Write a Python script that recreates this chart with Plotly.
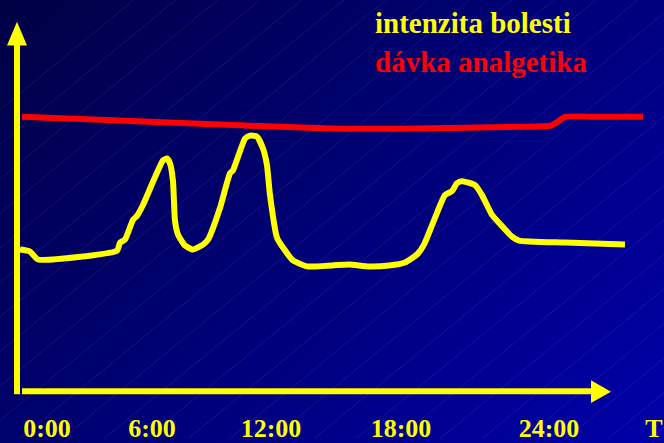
import plotly.graph_objects as go

# ---------------- data (x: time units along the axis, y: level above the time axis) ----------------
pain_x = [3, 13, 21, 100, 103, 108, 116, 120, 126, 146, 150, 153, 156, 158, 161, 168, 176, 186, 191,
          203, 213, 216, 228, 233, 240, 246, 250, 253, 260, 266, 276, 290, 315, 332, 352, 372, 388,
          400, 407, 418, 428, 435, 440, 445, 458, 465, 475, 482, 495, 502, 548, 608]
pain_y = [143, 141, 133, 142, 150, 153, 173, 177, 188, 233, 235, 230, 212, 172, 158, 147, 143, 148, 153,
          185, 220, 223, 255, 258, 257, 245, 228, 198, 155, 145, 132, 126, 127, 128, 126, 127, 130,
          138, 148, 175, 198, 202, 210, 212, 208, 198, 178, 170, 156, 152, 150, 148]

dose_x = [5, 83, 183, 263, 323, 383, 448, 503, 533, 539, 548, 583, 626]
dose_y = [277, 274, 270, 267, 265, 265, 266, 267, 268, 271, 277, 277, 277]

tick_pos = [30, 135, 254, 384, 532, 637]
tick_text = ["0:00", "6:00", "12:00", "18:00", "24:00", "T"]

legend_pain = "intenzita bolesti"
legend_dose = "dávka analgetika"

# ---------------- layout helpers ----------------
W, H = 664, 443
B = 31
PH = H - B
X0, Y0 = 17, 395   # pixel position of the axes origin


def px(x):
    return x / W


def py(y):
    return (PH - y) / PH


def dx(x):
    return x - X0


def dy(y):
    return Y0 - y


shapes = []

# background gradient (diagonal, darker top-left -> brighter bottom-right)
a, bx, cy = 68, 0.09, 0.09
kmax = bx * W + cy * H
N = 48


def yat(k, x):
    return (k - bx * x) / cy


for i in range(N):
    k0 = kmax * i / N - (200 if i == 0 else 0.4)
    k1 = kmax * (i + 1) / N + (200 if i == N - 1 else 0.4)
    kc = kmax * (i + 0.5) / N
    val = int(round(a + kc))
    xl, xr = -100, W + 100
    pts = [(xl, yat(k0, xl)), (xr, yat(k0, xr)), (xr, yat(k1, xr)), (xl, yat(k1, xl))]
    path = "M " + " L ".join(f"{px(x):.5f},{py(y):.5f}" for x, y in pts) + " Z"
    shapes.append(dict(type="path", path=path, xref="paper", yref="paper",
                       fillcolor=f"rgb(0,0,{val})", line=dict(width=0), layer="below"))

# faint diagonal texture lines
for x0 in range(-400, W + 40, 42):
    shapes.append(dict(type="line", xref="paper", yref="paper",
                       x0=px(x0), y0=py(H), x1=px(x0 + H / 0.83), y1=py(0),
                       line=dict(color="rgba(150,150,230,0.14)", width=1), layer="below"))

YEL = "#ffff00"
RED = "#ff0000"

# vertical axis with arrow
shapes.append(dict(type="rect", xref="x", yref="y", x0=dx(14), x1=dx(20), y0=dy(398), y1=dy(44),
                   fillcolor=YEL, line=dict(width=0), layer="above"))
shapes.append(dict(type="path", xref="x", yref="y",
                   path=f"M {dx(7)},{dy(46)} L {dx(27)},{dy(46)} L {dx(17)},{dy(22)} Z",
                   fillcolor=YEL, line=dict(width=0), layer="above"))
# horizontal axis with arrow
shapes.append(dict(type="rect", xref="x", yref="y", x0=dx(22), x1=dx(593), y0=dy(398), y1=dy(392),
                   fillcolor=YEL, line=dict(width=0), layer="above"))
shapes.append(dict(type="path", xref="x", yref="y",
                   path=f"M {dx(591)},{dy(384)} L {dx(591)},{dy(407)} L {dx(611)},{dy(395.5)} Z",
                   fillcolor=YEL, line=dict(width=0), layer="above"))

fig = go.Figure()
fig.add_trace(go.Scatter(x=dose_x, y=dose_y, mode="lines", name=legend_dose,
                         line=dict(color=RED, width=6, shape="spline", smoothing=0.5),
                         hoverinfo="skip"))
fig.add_trace(go.Scatter(x=pain_x, y=pain_y, mode="lines", name=legend_pain,
                         line=dict(color=YEL, width=6, shape="spline", smoothing=0.5),
                         hoverinfo="skip"))

FONT = "Liberation Serif"
annotations = [
    dict(text=f"<b>{legend_pain}</b>", xref="paper", yref="paper", x=px(373), y=py(23),
         xanchor="left", yanchor="middle", showarrow=False,
         font=dict(family=FONT, size=29, color=YEL)),
    dict(text=f"<b>{legend_dose}</b>", xref="paper", yref="paper", x=px(373), y=py(63),
         xanchor="left", yanchor="middle", showarrow=False,
         font=dict(family=FONT, size=29, color=RED)),
]

fig.update_layout(
    width=W, height=H,
    margin=dict(l=0, r=0, t=0, b=B, pad=0),
    paper_bgcolor="#000070",
    plot_bgcolor="rgba(0,0,0,0)",
    showlegend=False,
    shapes=shapes,
    annotations=annotations,
    xaxis=dict(range=[dx(0), dx(W)], showgrid=False, zeroline=False, showline=False,
               tickmode="array", tickvals=tick_pos, ticktext=[f"<b>{t}</b>" for t in tick_text],
               ticks="", ticklabelstandoff=2,
               tickfont=dict(family=FONT, size=26, color=YEL), fixedrange=True),
    yaxis=dict(range=[dy(PH), dy(0)], visible=False, showgrid=False, zeroline=False, fixedrange=True),
)

fig.write_html("out.html", config={"displayModeBar": False},
               post_script="document.body.style.margin='0';document.body.style.overflow='hidden';")
